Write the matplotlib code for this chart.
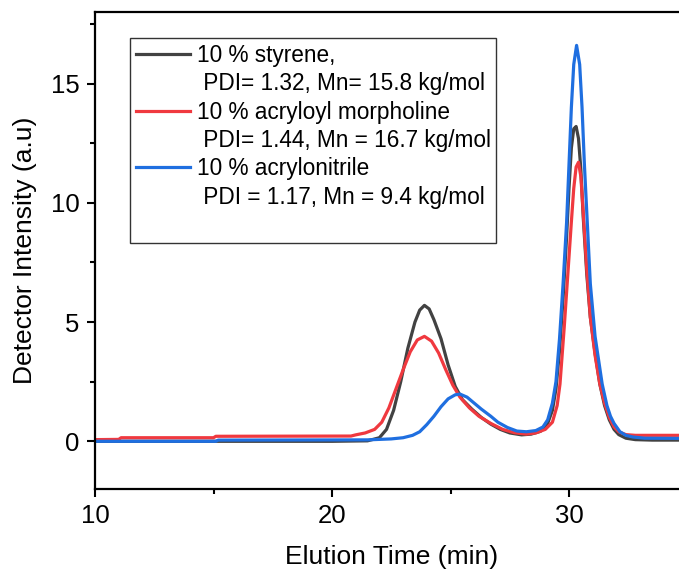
import matplotlib
matplotlib.use('Agg')
import matplotlib.pyplot as plt
from matplotlib.lines import Line2D

plt.rcParams['font.family'] = ['Liberation Sans', 'DejaVu Sans']

# Data (elution time in min, intensity in a.u.)
t_sty = [10, 15, 20, 21.5, 22.0, 22.3, 22.6, 22.9, 23.2, 23.5, 23.7, 23.9, 24.1, 24.3,
         24.6, 24.9, 25.2, 25.5, 25.9, 26.3, 26.7, 27.1, 27.5, 28.0, 28.4, 28.8, 29.1,
         29.3, 29.45, 29.6, 29.75, 29.9, 30.0, 30.1, 30.2, 30.3, 30.4, 30.5, 30.6, 30.75,
         30.9, 31.1, 31.3, 31.5, 31.7, 31.9, 32.1, 32.4, 32.8, 33.5, 35]
i_sty = [0.0, 0.0, 0.0, 0.02, 0.15, 0.5, 1.3, 2.5, 3.9, 5.0, 5.5, 5.7, 5.55, 5.1,
         4.3, 3.2, 2.3, 1.75, 1.35, 1.0, 0.72, 0.5, 0.35, 0.27, 0.3, 0.42, 0.75,
         1.3, 2.2, 3.8, 6.0, 8.6, 10.6, 12.3, 13.1, 13.2, 12.7, 11.4, 9.4, 7.0,
         5.2, 3.7, 2.4, 1.5, 0.9, 0.5, 0.28, 0.13, 0.07, 0.05, 0.05]

t_acm = [10, 11.0, 11.1, 15.0, 15.1, 20.8, 21.0, 21.4, 21.8, 22.1, 22.4, 22.7, 23.0,
         23.3, 23.6, 23.9, 24.2, 24.5, 24.8, 25.1, 25.4, 25.8, 26.2, 26.7, 27.2, 27.7,
         28.2, 28.6, 29.0, 29.3, 29.5, 29.62, 29.8, 29.95, 30.1, 30.2, 30.3, 30.4, 30.5,
         30.6, 30.75, 30.9, 31.1, 31.3, 31.5, 31.7, 31.9, 32.1, 32.4, 32.8, 35]
i_acm = [0.07, 0.08, 0.15, 0.15, 0.21, 0.22, 0.27, 0.35, 0.5, 0.8, 1.4, 2.2, 3.0,
         3.75, 4.25, 4.4, 4.2, 3.7, 3.0, 2.35, 1.85, 1.4, 1.05, 0.75, 0.5, 0.36,
         0.3, 0.35, 0.5, 0.8, 1.5, 2.4, 4.8, 7.0, 9.2, 10.6, 11.5, 11.7, 11.1,
         9.6, 7.2, 5.2, 3.6, 2.4, 1.6, 1.0, 0.6, 0.4, 0.28, 0.25, 0.25]

t_an = [10, 15.1, 15.2, 21.5, 22.5, 23.0, 23.4, 23.7, 24.0, 24.3, 24.6, 24.9, 25.2,
        25.4, 25.7, 26.0, 26.3, 26.7, 27.0, 27.4, 27.8, 28.2, 28.6, 28.9, 29.1, 29.3,
        29.45, 29.6, 29.75, 29.9, 30.0, 30.1, 30.2, 30.32, 30.45, 30.55, 30.65, 30.8,
        30.9, 31.1, 31.4, 31.6, 31.75, 31.9, 32.15, 32.4, 32.7, 33.2, 35]
i_an = [0.0, 0.0, 0.05, 0.06, 0.1, 0.15, 0.25, 0.4, 0.7, 1.05, 1.45, 1.78, 1.95,
        1.98, 1.85, 1.6, 1.35, 1.05, 0.8, 0.58, 0.43, 0.4, 0.45, 0.6, 0.9, 1.6,
        2.5, 4.3, 6.6, 9.2, 11.6, 14.0, 15.8, 16.6, 15.8, 14.0, 11.6, 8.6,
        6.6, 4.4, 2.4, 1.5, 1.05, 0.75, 0.4, 0.25, 0.18, 0.13, 0.12]

labels_main = ['10 % styrene,', '10 % acryloyl morpholine', '10 % acrylonitrile']
labels_sub = [' PDI= 1.32, Mn= 15.8 kg/mol', ' PDI= 1.44, Mn = 16.7 kg/mol',
              ' PDI = 1.17, Mn = 9.4 kg/mol']
colors = ['#424242', '#f0393f', '#1f6fe0']

fig = plt.figure(figsize=(6.79, 5.77), dpi=100)
ax = fig.add_axes([95 / 679, 88 / 577, 592.5 / 679, 477 / 577])

lines = []
for t, y, c in zip([t_sty, t_acm, t_an], [i_sty, i_acm, i_an], colors):
    ln, = ax.plot(t, y, color=c, lw=2.3, solid_joinstyle='round')
    lines.append(ln)

ax.set_xlim(10, 35)
ax.set_ylim(-2, 18)
ax.set_xticks([10, 20, 30])
ax.set_xticks([15, 25, 35], minor=True)
ax.set_yticks([0, 5, 10, 15])
ax.set_yticks([2.5, 7.5, 12.5, 17.5], minor=True)
ax.tick_params(which='major', direction='out', length=6, width=1.5, labelsize=18.5, pad=5)
ax.tick_params(which='minor', direction='out', length=3.5, width=1.5)
for s in ax.spines.values():
    s.set_linewidth(1.6)

ax.set_xlabel('Elution Time (min)', fontsize=19, labelpad=12)
ax.set_ylabel('Detector Intensity (a.u)', fontsize=19, labelpad=10)

blank = Line2D([], [], color='none')
handles = []
labels = []
for ln, m, s in zip(lines, labels_main, labels_sub):
    handles += [ln, blank]
    labels += [m, s]
handles.append(blank)
labels.append(' ')
leg = ax.legend(handles, labels, loc='upper left', bbox_to_anchor=(130 / 679, 1 - 38 / 577),
                bbox_transform=fig.transFigure, borderaxespad=0, fontsize=16.3,
                fancybox=False, framealpha=1, edgecolor='#333333', borderpad=0.25,
                labelspacing=0.24, handlelength=2.4, handletextpad=0.3)
leg.get_frame().set_linewidth(1.0)

fig.savefig('out.png', dpi=100)
